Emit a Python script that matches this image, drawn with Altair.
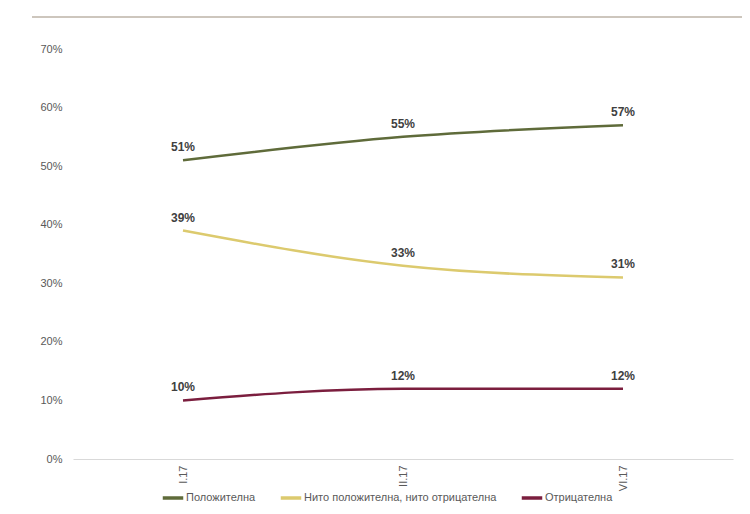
import altair as alt
import pandas as pd

periods = ["I.17", "II.17", "VI.17"]
series_names = ["Положителна", "Нито положителна, нито отрицателна", "Отрицателна"]
positive = [0.51, 0.55, 0.57]
neutral = [0.39, 0.33, 0.31]
negative = [0.10, 0.12, 0.12]
colors = ["#5f6b3a", "#dcca6e", "#7b1e3e"]

rows = []
for name, vals in zip(series_names, [positive, neutral, negative]):
    for p, v in zip(periods, vals):
        rows.append({"period": p, "series": name, "value": v})
df = pd.DataFrame(rows)

FONT = "Liberation Sans, Arial"

x_enc = alt.X("period:N", sort=periods, title=None,
              axis=alt.Axis(labelAngle=270, labelFontSize=11, labelColor="#595959",
                            labelFont=FONT, ticks=False, domainColor="#d9d9d9",
                            labelPadding=6, grid=False))
y_enc = alt.Y("value:Q", title=None,
              scale=alt.Scale(domain=[0, 0.7], nice=False),
              axis=alt.Axis(format=".0%", values=[0, .1, .2, .3, .4, .5, .6, .7],
                            labelFontSize=11, labelColor="#595959", labelFont=FONT,
                            ticks=False, domain=False, grid=False, labelPadding=11))

color_enc = alt.Color("series:N", sort=series_names,
                      scale=alt.Scale(domain=series_names, range=colors),
                      legend=alt.Legend(title=None, orient="none", direction="horizontal",
                                        legendX=88, legendY=437,
                                        symbolType="stroke", symbolStrokeWidth=3.5,
                                        symbolSize=420, labelFontSize=11,
                                        labelColor="#595959", labelFont=FONT,
                                        labelLimit=400,
                                        labelOffset=1, columnPadding=17))

lines = alt.Chart(df).mark_line(strokeWidth=2.5, interpolate="monotone").encode(
    x=x_enc, y=y_enc, color=color_enc
)

labels = alt.Chart(df).mark_text(fontWeight="bold", fontSize=12, color="#404040",
                                 font=FONT, dy=-13).encode(
    x=alt.X("period:N", sort=periods),
    y=alt.Y("value:Q"),
    text=alt.Text("value:Q", format=".0%")
)

top_rule = alt.Chart(pd.DataFrame({"a": [0]})).mark_rule(
    color="#cdc6bd", strokeWidth=2
).encode(x=alt.value(-41), x2=alt.value(690), y=alt.value(-32))

chart = alt.layer(lines, labels, top_rule).properties(
    width=660, height=410,
    autosize=alt.AutoSizeParams(type="none"),
    padding={"left": 65, "top": 41, "right": 9, "bottom": 47},
    background="white",
).configure_view(stroke=None)

chart.save("out.html", embed_options={"renderer": "svg", "actions": False})
